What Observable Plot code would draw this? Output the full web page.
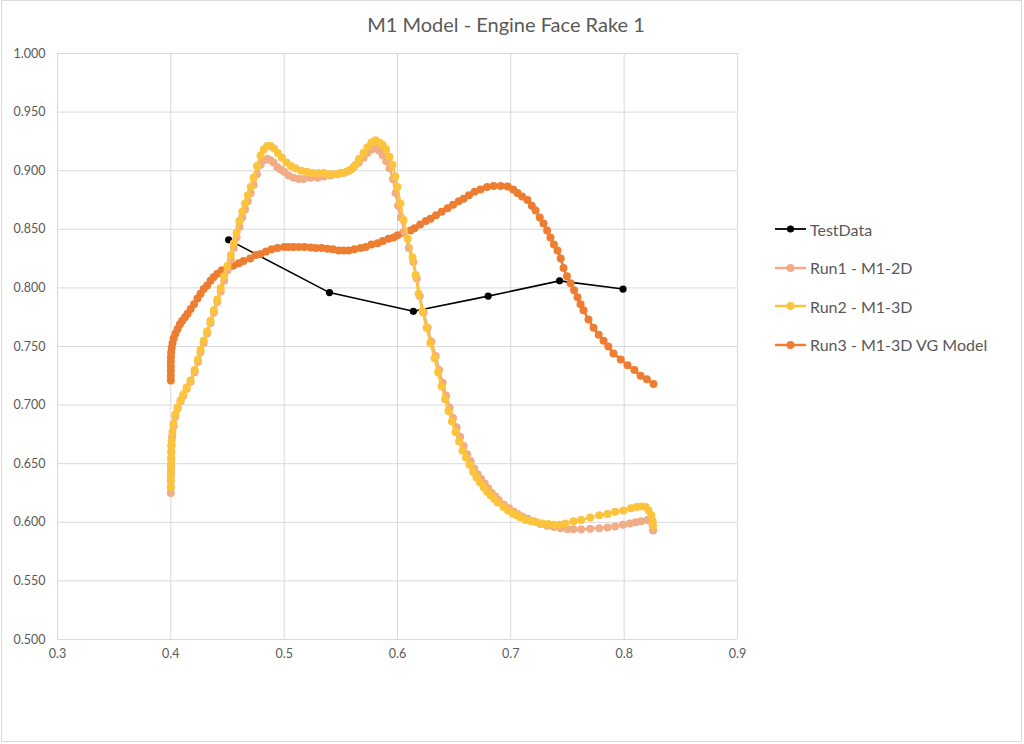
<!DOCTYPE html>
<html>
<head>
<meta charset="utf-8">
<script src="https://cdn.jsdelivr.net/npm/d3@7"></script>
<script src="https://cdn.jsdelivr.net/npm/@observablehq/plot@0.6"></script>
<style>
  html, body { margin: 0; padding: 0; background: #fff; }
  #wrap { position: relative; width: 1024px; height: 744px; overflow: hidden; font-family: Lato, "Open Sans", sans-serif; }
  #frame { position: absolute; left: 1px; top: 0; width: 1021px; height: 742px; border: 1px solid #d9d9d9; box-sizing: border-box; pointer-events: none; }
  #title { position: absolute; top: 12px; left: 0; width: 1012px; text-align: center; font-size: 20px; color: #595959; }
  #legend { position: absolute; left: 775px; top: 210px; }
  .item { display: flex; align-items: center; height: 38.5px; font-size: 16px; color: #595959; }
  .item svg { margin-right: 4px; }
  #chart svg { display: block; }
</style>
</head>
<body>
<div id="wrap">
  <div id="chart"></div>
  <div id="title"></div>
  <div id="legend"></div>
  <div id="frame"></div>
</div>
<script>
const chartTitle = "M1 Model - Engine Face Rake 1";
const seriesNames = ["TestData", "Run1 - M1-2D", "Run2 - M1-3D", "Run3 - M1-3D VG Model"];
const seriesColors = ["#000000", "#F1AC88", "#FCC43C", "#ED7D31"];
const xTicks = [0.3, 0.4, 0.5, 0.6, 0.7, 0.8, 0.9];
const yTicks = [0.5, 0.55, 0.6, 0.65, 0.7, 0.75, 0.8, 0.85, 0.9, 0.95, 1.0];

const testData = [
  [0.451, 0.841], [0.540, 0.796], [0.614, 0.780], [0.680, 0.793], [0.743, 0.806], [0.799, 0.799]
];

const run1 = [
  [0.4000,0.625],[0.4000,0.630],[0.4000,0.636],[0.4001,0.642],[0.4002,0.648],[0.4003,0.654],[0.4004,0.660],
  [0.4006,0.666],[0.4012,0.673],[0.4024,0.682],[0.4040,0.690],[0.4060,0.697],[0.4085,0.703],[0.4110,0.708],
  [0.4140,0.714],[0.4174,0.720],[0.4210,0.728],[0.4240,0.737],[0.4262,0.745],[0.4290,0.753],[0.4320,0.761],
  [0.4350,0.770],[0.4380,0.779],[0.4410,0.788],[0.4440,0.797],[0.4470,0.806],[0.4500,0.815],[0.4530,0.824],
  [0.4555,0.834],[0.4580,0.843],[0.4605,0.852],[0.4630,0.860],[0.4655,0.867],[0.4680,0.874],[0.4705,0.881],
  [0.4730,0.888],[0.4760,0.897],[0.4792,0.905],[0.4820,0.909],[0.4853,0.910],[0.4880,0.909],[0.4906,0.907],
  [0.4940,0.903],[0.4970,0.901],[0.5000,0.899],[0.5040,0.896],[0.5083,0.894],[0.5130,0.893],[0.5171,0.893],
  [0.5230,0.894],[0.5294,0.894],[0.5350,0.895],[0.5409,0.896],[0.5470,0.897],[0.5524,0.898],[0.5570,0.900],
  [0.5612,0.903],[0.5660,0.907],[0.5700,0.911],[0.5735,0.915],[0.5770,0.918],[0.5806,0.919],[0.5840,0.917],
  [0.5870,0.913],[0.5900,0.908],[0.5930,0.902],[0.5960,0.893],[0.5983,0.881],[0.6005,0.870],[0.6030,0.860],
  [0.6060,0.848],[0.6100,0.834],[0.6140,0.822],[0.6170,0.808],[0.6196,0.793],[0.6230,0.779],[0.6266,0.766],
  [0.6300,0.754],[0.6337,0.742],[0.6368,0.730],[0.6399,0.719],[0.6430,0.708],[0.6460,0.698],[0.6490,0.689],
  [0.6522,0.681],[0.6553,0.673],[0.6584,0.665],[0.6615,0.658],[0.6646,0.652],[0.6677,0.646],[0.6707,0.641],
  [0.6738,0.637],[0.6769,0.633],[0.6800,0.629],[0.6831,0.625],[0.6863,0.622],[0.6893,0.619],[0.6940,0.615],
  [0.6985,0.612],[0.7025,0.609],[0.7060,0.607],[0.7100,0.605],[0.7150,0.603],[0.7200,0.601],[0.7262,0.5985],
  [0.7320,0.597],[0.7380,0.596],[0.7440,0.595],[0.7500,0.594],[0.7553,0.594],[0.7620,0.594],[0.7700,0.5945],
  [0.7780,0.595],[0.7853,0.5955],[0.7920,0.5965],[0.7990,0.598],[0.8050,0.599],[0.8100,0.600],[0.8150,0.601],
  [0.8206,0.602],[0.8240,0.602],[0.8250,0.598],[0.8255,0.593]
];

const run2 = [
  [0.4000,0.630],[0.4000,0.635],[0.4000,0.640],[0.4001,0.645],[0.4002,0.650],[0.4003,0.655],[0.4004,0.660],
  [0.4005,0.665],[0.4008,0.670],[0.4014,0.677],[0.4024,0.684],[0.4040,0.692],[0.4060,0.698],[0.4085,0.704],
  [0.4110,0.709],[0.4140,0.715],[0.4174,0.721],[0.4210,0.730],[0.4240,0.739],[0.4262,0.747],[0.4290,0.755],
  [0.4320,0.763],[0.4350,0.772],[0.4380,0.781],[0.4410,0.790],[0.4440,0.800],[0.4470,0.810],[0.4500,0.819],
  [0.4530,0.828],[0.4555,0.838],[0.4580,0.847],[0.4605,0.857],[0.4630,0.865],[0.4655,0.872],[0.4680,0.879],
  [0.4705,0.886],[0.4730,0.894],[0.4760,0.904],[0.4792,0.913],[0.4820,0.918],[0.4850,0.921],[0.4880,0.921],
  [0.4910,0.919],[0.4945,0.915],[0.4980,0.911],[0.5020,0.907],[0.5060,0.904],[0.5100,0.902],[0.5150,0.900],
  [0.5200,0.899],[0.5250,0.898],[0.5300,0.898],[0.5350,0.898],[0.5400,0.897],[0.5450,0.897],[0.5500,0.898],
  [0.5550,0.899],[0.5590,0.901],[0.5630,0.905],[0.5660,0.910],[0.5700,0.915],[0.5735,0.920],[0.5770,0.924],
  [0.5806,0.926],[0.5840,0.924],[0.5870,0.922],[0.5900,0.918],[0.5930,0.912],[0.5956,0.905],[0.5980,0.895],
  [0.6000,0.886],[0.6025,0.872],[0.6053,0.858],[0.6090,0.842],[0.6133,0.826],[0.6160,0.811],[0.6186,0.795],
  [0.6220,0.780],[0.6257,0.766],[0.6290,0.753],[0.6327,0.740],[0.6358,0.728],[0.6389,0.716],[0.6420,0.705],
  [0.6450,0.695],[0.6480,0.686],[0.6512,0.677],[0.6543,0.669],[0.6574,0.661],[0.6605,0.655],[0.6636,0.649],
  [0.6667,0.643],[0.6697,0.638],[0.6728,0.634],[0.6759,0.630],[0.6790,0.626],[0.6821,0.623],[0.6853,0.620],
  [0.6883,0.617],[0.6936,0.613],[0.6975,0.610],[0.7015,0.6075],[0.7050,0.606],[0.7086,0.604],[0.7130,0.602],
  [0.7180,0.601],[0.7230,0.600],[0.7280,0.599],[0.7330,0.5985],[0.7380,0.598],[0.7430,0.598],[0.7480,0.599],
  [0.7553,0.601],[0.7620,0.602],[0.7700,0.604],[0.7780,0.606],[0.7853,0.607],[0.7920,0.609],[0.7994,0.610],
  [0.8060,0.612],[0.8110,0.613],[0.8150,0.6135],[0.8190,0.613],[0.8215,0.610],[0.8240,0.606],[0.8252,0.601],
  [0.8255,0.597]
];

const run3 = [
  [0.4000,0.721],[0.4000,0.725],[0.4000,0.729],[0.4000,0.733],[0.4000,0.737],[0.4001,0.741],[0.4003,0.745],
  [0.4008,0.749],[0.4015,0.753],[0.4025,0.757],[0.4041,0.761],[0.4060,0.765],[0.4080,0.769],[0.4100,0.772],
  [0.4125,0.775],[0.4147,0.778],[0.4175,0.782],[0.4205,0.786],[0.4235,0.791],[0.4262,0.795],[0.4290,0.799],
  [0.4320,0.802],[0.4350,0.806],[0.4377,0.809],[0.4410,0.812],[0.4450,0.815],[0.4500,0.817],[0.4550,0.819],
  [0.4600,0.821],[0.4641,0.823],[0.4700,0.825],[0.4750,0.828],[0.4792,0.829],[0.4840,0.831],[0.4890,0.833],
  [0.4941,0.834],[0.5000,0.835],[0.5040,0.835],[0.5083,0.835],[0.5130,0.835],[0.5180,0.835],[0.5233,0.8345],
  [0.5280,0.834],[0.5330,0.834],[0.5382,0.8335],[0.5430,0.833],[0.5480,0.832],[0.5524,0.832],[0.5570,0.832],
  [0.5620,0.833],[0.5674,0.834],[0.5720,0.835],[0.5770,0.837],[0.5824,0.838],[0.5870,0.840],[0.5920,0.842],
  [0.5965,0.843],[0.6000,0.845],[0.6050,0.847],[0.6115,0.849],[0.6150,0.851],[0.6200,0.854],[0.6250,0.857],
  [0.6292,0.859],[0.6340,0.862],[0.6390,0.865],[0.6442,0.868],[0.6490,0.871],[0.6540,0.874],[0.6583,0.876],
  [0.6630,0.879],[0.6680,0.882],[0.6733,0.884],[0.6790,0.886],[0.6848,0.887],[0.6910,0.887],[0.6971,0.8865],
  [0.7020,0.884],[0.7059,0.881],[0.7100,0.878],[0.7147,0.875],[0.7185,0.870],[0.7218,0.866],[0.7255,0.860],
  [0.7288,0.855],[0.7320,0.849],[0.7350,0.843],[0.7380,0.837],[0.7412,0.832],[0.7440,0.825],[0.7465,0.817],
  [0.7495,0.810],[0.7527,0.804],[0.7558,0.798],[0.7588,0.792],[0.7615,0.786],[0.7641,0.781],[0.7685,0.773],
  [0.7730,0.766],[0.7775,0.760],[0.7818,0.755],[0.7860,0.750],[0.7906,0.744],[0.7970,0.739],[0.8030,0.734],
  [0.8090,0.730],[0.8144,0.725],[0.8200,0.722],[0.8259,0.718]
];

const X = d => d[0], Y = d => d[1];
const ink = "#595959", grid = "#d9d9d9";

const chart = Plot.plot({
  width: 1024,
  height: 744,
  marginLeft: 57,
  marginRight: 287,
  marginTop: 53,
  marginBottom: 105,
  style: { fontFamily: "Lato, 'Open Sans', sans-serif", background: "transparent" },
  x: { domain: [0.3, 0.9] },
  y: { domain: [0.5, 1.0] },
  marks: [
    Plot.gridX(xTicks, { stroke: grid, strokeOpacity: 1, strokeWidth: 1 }),
    Plot.gridY(yTicks, { stroke: grid, strokeOpacity: 1, strokeWidth: 1 }),
    Plot.axisX(xTicks, { tickSize: 0, tickPadding: 10, tickFormat: d3.format(".1f"), fontSize: 12.5, fill: ink, label: null }),
    Plot.axisY(yTicks, { tickSize: 0, tickPadding: 12, tickFormat: d3.format(".3f"), fontSize: 12.5, fill: ink, label: null }),
    Plot.line(testData, { x: X, y: Y, stroke: seriesColors[0], strokeWidth: 1.6 }),
    Plot.dot(testData, { x: X, y: Y, r: 3.6, fill: seriesColors[0] }),
    Plot.line(run3, { x: X, y: Y, stroke: seriesColors[3], strokeWidth: 2.5 }),
    Plot.dot(run3, { x: X, y: Y, r: 4, fill: seriesColors[3] }),
    Plot.line(run1, { x: X, y: Y, stroke: seriesColors[1], strokeWidth: 2.5 }),
    Plot.dot(run1, { x: X, y: Y, r: 4, fill: seriesColors[1] }),
    Plot.line(run2, { x: X, y: Y, stroke: seriesColors[2], strokeWidth: 2.5 }),
    Plot.dot(run2, { x: X, y: Y, r: 4, fill: seriesColors[2] })
  ]
});
document.getElementById("chart").appendChild(chart);
document.getElementById("title").textContent = chartTitle;

const legend = document.getElementById("legend");
seriesNames.forEach((name, i) => {
  const item = document.createElement("div");
  item.className = "item";
  const c = seriesColors[i];
  item.innerHTML = `<svg width="31" height="10"><line x1="0" y1="5" x2="31" y2="5" stroke="${c}" stroke-width="${i === 0 ? 1.8 : 2.5}"/><circle cx="15.5" cy="5" r="${i === 0 ? 3.6 : 4}" fill="${c}"/></svg><span></span>`;
  item.querySelector("span").textContent = name;
  legend.appendChild(item);
});
</script>
</body>
</html>
